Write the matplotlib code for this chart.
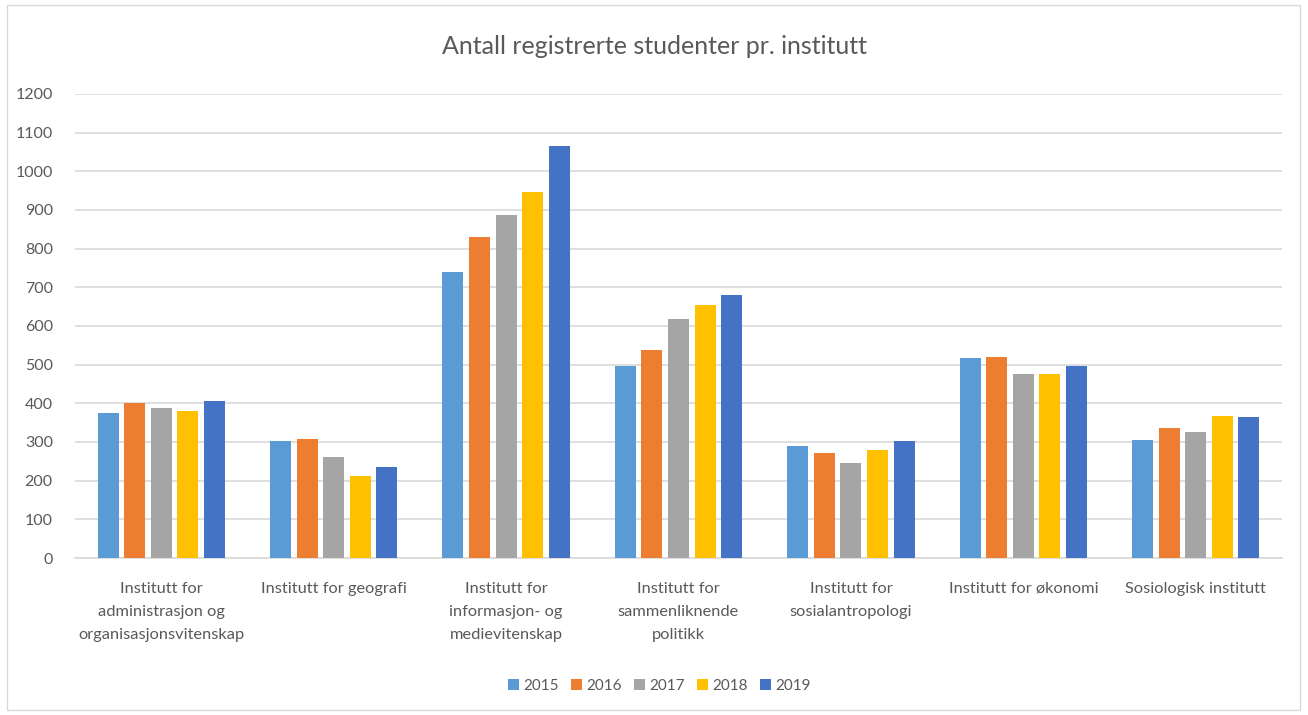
import matplotlib
matplotlib.use("Agg")
import matplotlib.pyplot as plt
import numpy as np
from matplotlib.patches import Rectangle

plt.rcParams['font.family'] = ['Lato', 'DejaVu Sans']

categories = [
    "Institutt for\nadministrasjon og\norganisasjonsvitenskap",
    "Institutt for geografi",
    "Institutt for\ninformasjon- og\nmedievitenskap",
    "Institutt for\nsammenliknende\npolitikk",
    "Institutt for\nsosialantropologi",
    "Institutt for økonomi",
    "Sosiologisk institutt",
]
years = ["2015", "2016", "2017", "2018", "2019"]
v2015 = [375, 302, 740, 496, 290, 517, 305]
v2016 = [402, 308, 831, 538, 272, 520, 337]
v2017 = [387, 261, 887, 619, 246, 475, 327]
v2018 = [379, 211, 946, 655, 279, 475, 368]
v2019 = [405, 235, 1065, 681, 302, 496, 365]
series = [v2015, v2016, v2017, v2018, v2019]
colors = ["#5B9BD5", "#ED7D31", "#A5A5A5", "#FFC000", "#4472C4"]
yticks = list(range(0, 1300, 100))

W, H = 1308, 715
fig = plt.figure(figsize=(W/100, H/100), dpi=100)
ax = fig.add_axes([75/W, 1-558/H, (1282-75)/W, (558-94)/H])

x = np.arange(len(categories))
pitch = 0.154
bw = 0.122
for i, (vals, c, yr) in enumerate(zip(series, colors, years)):
    ax.bar(x + (i-2)*pitch, vals, width=bw, color=c, label=yr, zorder=3)

ax.set_xlim(-0.5, len(categories)-0.5)
ax.set_ylim(0, 1200)
ax.set_yticks(yticks)
ax.set_yticklabels([str(t) for t in yticks], fontsize=11.5, color="#595959")
ax.yaxis.grid(True, color="#D9D9D9", linewidth=1.2, zorder=0)
ax.set_axisbelow(True)
for s in ["top", "right", "left"]:
    ax.spines[s].set_visible(False)
ax.spines["bottom"].set_color("#D9D9D9")
ax.spines["bottom"].set_linewidth(1.2)
ax.tick_params(axis="y", length=0, pad=16)
ax.tick_params(axis="x", length=0, pad=17)
ax.set_xticks(x)
ax.set_xticklabels(categories, fontsize=11.8, color="#595959", linespacing=1.85, va="top")

fig.text(0.5, 1-46/H, "Antall registrerte studenter pr. institutt", ha="center", va="center",
         fontsize=18, color="#595959")

leg = fig.legend(loc="center", bbox_to_anchor=(0.504, 1-686/H), ncol=5, frameon=False,
                 fontsize=11, handlelength=0.7, handleheight=0.7, handletextpad=0.3,
                 columnspacing=0.8, labelcolor="#595959")

fig.patches.append(Rectangle((7/W, 1-710/H), (1300-7)/W, (710-5)/H, transform=fig.transFigure,
                             fill=False, edgecolor="#D9D9D9", linewidth=1))

fig.savefig("out.png", dpi=100)
